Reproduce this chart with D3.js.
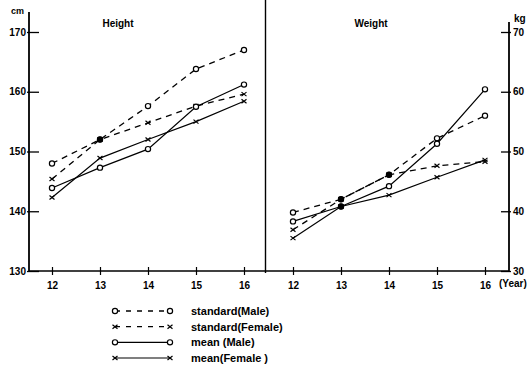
<!DOCTYPE html>
<html>
<head>
<meta charset="utf-8">
<script src="https://cdn.jsdelivr.net/npm/d3@7"></script>
<style>
  body { margin: 0; background: #fff; }
  text { font-family: "Liberation Sans", Arial, sans-serif; font-weight: bold; fill: #000; }
</style>
</head>
<body>
<div id="vis"></div>
<script>
// ages on the x axis
const years = [12, 13, 14, 15, 16];

// height in cm
const heightStdMale = [148, 152, 157.6, 163.8, 167];
const heightStdFemale = [145.4, 152, 154.8, 157.6, 159.6];
const heightMeanMale = [143.9, 147.3, 150.4, 157.5, 161.2];
const heightMeanFemale = [142.3, 148.9, 152, 155, 158.4];
const heightTicks = [130, 140, 150, 160, 170];
const heightFilled = [[13, 152]];

// weight in kg
const weightStdMale = [39.8, 42, 46.1, 52.2, 56];
const weightStdFemale = [36.9, 42, 46.1, 47.6, 48.3];
const weightMeanMale = [38.3, 40.8, 44.2, 51.3, 60.4];
const weightMeanFemale = [35.5, 40.8, 42.7, 45.7, 48.6];
const weightTicks = [30, 40, 50, 60, 70];
const weightFilled = [[13, 42], [14, 46.1], [13, 40.8]];

const legendLabels = ["standard(Male)", "standard(Female)", "mean (Male)", "mean(Female )"];

const width = 532, height = 366;

const svg = d3.select("#vis").append("svg")
    .attr("width", width)
    .attr("height", height);

const yH = d3.scaleLinear().domain([130, 170]).range([271, 32]);
const yW = d3.scaleLinear().domain([30, 70]).range([271, 32]);
const xL = d3.scaleLinear().domain([12, 16]).range([52, 244]);
const xR = d3.scaleLinear().domain([12, 16]).range([293, 485]);

// frame lines
svg.append("line").attr("x1", 29).attr("x2", 509).attr("y1", 271).attr("y2", 271)
    .attr("stroke", "#000").attr("stroke-width", 1.4);
svg.append("line").attr("x1", 29).attr("x2", 29).attr("y1", 12).attr("y2", 271)
    .attr("stroke", "#000").attr("stroke-width", 1.8);
svg.append("line").attr("x1", 509).attr("x2", 509).attr("y1", 22).attr("y2", 271)
    .attr("stroke", "#000").attr("stroke-width", 1.8);
svg.append("line").attr("x1", 265.5).attr("x2", 265.5).attr("y1", 0).attr("y2", 273)
    .attr("stroke", "#000").attr("stroke-width", 1.4);

// left axis
const leftAxis = svg.append("g")
    .attr("transform", "translate(29,0)")
    .call(d3.axisLeft(yH).tickValues(heightTicks).tickSizeInner(-10).tickSizeOuter(0).tickPadding(3));
leftAxis.select(".domain").remove();
leftAxis.selectAll(".tick line").attr("x1", -2).attr("stroke-width", 1.3);
leftAxis.selectAll(".tick text").attr("font-size", 10).attr("font-family", null);

// right axis
const rightAxis = svg.append("g")
    .attr("transform", "translate(509,0)")
    .call(d3.axisRight(yW).tickValues(weightTicks).tickSizeInner(2).tickSizeOuter(0).tickPadding(2));
rightAxis.select(".domain").remove();
rightAxis.selectAll(".tick line").attr("x1", -8).attr("stroke-width", 1.3);
rightAxis.selectAll(".tick text").attr("font-size", 10).attr("font-family", null);

// bottom axes
[xL, xR].forEach(function(x) {
    const g = svg.append("g")
        .attr("transform", "translate(0,271)")
        .call(d3.axisBottom(x).tickValues(years).tickSize(4).tickPadding(7).tickFormat(d3.format("d")));
    g.select(".domain").remove();
    g.selectAll(".tick line").attr("y1", -4).attr("stroke-width", 1.2);
    g.selectAll(".tick text").attr("font-size", 10).attr("font-family", null);
});

// unit labels and titles
svg.append("text").attr("x", 11).attr("y", 14).attr("font-size", 9).text("cm");
svg.append("text").attr("x", 514).attr("y", 22).attr("font-size", 10).text("kg");
svg.append("text").attr("x", 499).attr("y", 287).attr("font-size", 10).text("(Year)");
svg.append("text").attr("x", 118).attr("y", 27).attr("font-size", 10).attr("text-anchor", "middle").text("Height");
svg.append("text").attr("x", 371).attr("y", 27).attr("font-size", 10).attr("text-anchor", "middle").text("Weight");

function drawSeries(x, y, values, dashed, marker) {
    const pts = years.map(function(yr, i) { return [yr, values[i]]; });
    const line = d3.line().x(d => x(d[0])).y(d => y(d[1]));
    svg.append("path")
        .attr("d", line(pts))
        .attr("fill", "none")
        .attr("stroke", "#000")
        .attr("stroke-width", dashed ? 1.3 : 1.2)
        .attr("stroke-dasharray", dashed ? "6,5" : null);
    drawMarkers(pts.map(d => [x(d[0]), y(d[1])]), marker);
}

function drawMarkers(pts, marker) {
    pts.forEach(function(p) {
        if (marker === "o") {
            svg.append("circle").attr("cx", p[0]).attr("cy", p[1]).attr("r", 2.6)
                .attr("fill", "#fff").attr("stroke", "#000").attr("stroke-width", 1.2);
        } else {
            svg.append("path")
                .attr("d", "M" + (p[0] - 2.5) + "," + (p[1] - 2) + "L" + (p[0] + 2.5) + "," + (p[1] + 2) +
                    "M" + (p[0] - 2.5) + "," + (p[1] + 2) + "L" + (p[0] + 2.5) + "," + (p[1] - 2))
                .attr("stroke", "#000").attr("stroke-width", 1.2);
        }
    });
}

drawSeries(xL, yH, heightStdMale, true, "o");
drawSeries(xL, yH, heightStdFemale, true, "x");
drawSeries(xL, yH, heightMeanMale, false, "o");
drawSeries(xL, yH, heightMeanFemale, false, "x");

drawSeries(xR, yW, weightStdMale, true, "o");
drawSeries(xR, yW, weightStdFemale, true, "x");
drawSeries(xR, yW, weightMeanMale, false, "o");
drawSeries(xR, yW, weightMeanFemale, false, "x");

heightFilled.forEach(function(d) {
    svg.append("circle").attr("cx", xL(d[0])).attr("cy", yH(d[1])).attr("r", 3).attr("fill", "#000");
});
weightFilled.forEach(function(d) {
    svg.append("circle").attr("cx", xR(d[0])).attr("cy", yW(d[1])).attr("r", 3).attr("fill", "#000");
});

// legend
const legendStyles = [[true, "o"], [true, "x"], [false, "o"], [false, "x"]];
const legendY = d3.scalePoint().domain(legendLabels).range([311, 358]);
legendLabels.forEach(function(label, i) {
    const ly = legendY(label);
    const st = legendStyles[i];
    svg.append("line").attr("x1", 115).attr("x2", 170).attr("y1", ly).attr("y2", ly)
        .attr("stroke", "#000").attr("stroke-width", st[0] ? 1.3 : 1.2)
        .attr("stroke-dasharray", st[0] ? "5,6" : null);
    drawMarkers([[115, ly], [170, ly]], st[1]);
    svg.append("text").attr("x", 191).attr("y", ly + 4).attr("font-size", 11).text(label);
});
</script>
</body>
</html>
